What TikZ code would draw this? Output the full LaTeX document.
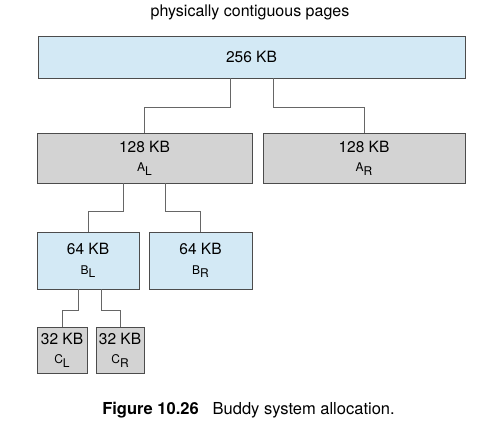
\documentclass[tikz,border=0pt]{standalone}
\usepackage{fontspec}
\setmainfont{TeX Gyre Heros}
\definecolor{freeblue}{HTML}{D3E9F5}
\definecolor{usedgray}{HTML}{D3D3D3}
\newcommand{\half}[2]{{\fontsize{12}{12}\selectfont #1\raisebox{-3.5pt}{#2}}}

\begin{document}
\begin{tikzpicture}[x=1pt,y=-1pt,
    block/.style={draw=black!70,line width=0.9pt,inner sep=0pt,align=center,
      font=\fontsize{15.5}{19.5}\selectfont},
    freeblk/.style={block,fill=freeblue},
    usedblk/.style={block,fill=usedgray},
    link/.style={draw=black!60,line width=0.9pt}]
    \useasboundingbox (0,0) rectangle (490,438);
    \node[font=\fontsize{16}{18}\selectfont] (title) at (250,12) {physically contiguous pages};
    % the blocks
    \node[freeblk,minimum width=427pt,minimum height=42pt] (top) at (251.5,57) {256 KB};
    \node[usedblk,minimum width=215pt,minimum height=50pt] (AL) at (144.5,158) {128 KB\\\half{A}{L}};
    \node[usedblk,minimum width=202pt,minimum height=50pt] (AR) at (364,158) {128 KB\\\half{A}{R}};
    \node[freeblk,minimum width=102pt,minimum height=57pt] (BL) at (88,260.5) {64 KB\\\half{B}{L}};
    \node[freeblk,minimum width=103pt,minimum height=57pt] (BR) at (200.5,260.5) {64 KB\\\half{B}{R}};
    \node[usedblk,minimum width=50pt,minimum height=46pt] (CL) at (62,350) {32 KB\\\half{C}{L}};
    \node[usedblk,minimum width=48pt,minimum height=46pt] (CR) at (120,350) {32 KB\\\half{C}{R}};
    % splits
    \draw[link] ([xshift=-21.5pt]top.south) -- ++(0,29) -| (AL.north);
    \draw[link] ([xshift=21.5pt]top.south) -- ++(0,29) -| (AR.north);
    \draw[link] ([xshift=-21.5pt]AL.south) -- ++(0,28) -| (BL.north);
    \draw[link] ([xshift=20.5pt]AL.south) -- ++(0,28) -| (BR.north);
    \draw[link] ([xshift=-10pt]BL.south) -- ++(0,21) -| (CL.north);
    \draw[link] ([xshift=13pt]BL.south) -- ++(0,21) -| (CR.north);
    \node[font=\fontsize{16.5}{19}\selectfont] (caption) at (248.5,410)
      {{\bfseries Figure 10.26}\hspace{14pt}Buddy system allocation.};
\end{tikzpicture}
\end{document}
